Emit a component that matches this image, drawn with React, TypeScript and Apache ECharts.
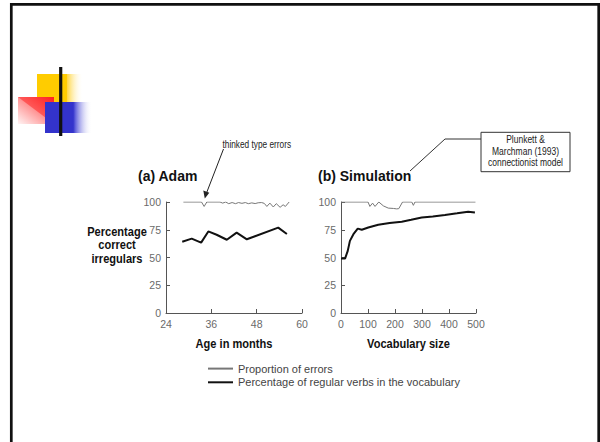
import React, { useEffect, useRef } from "react";
import * as echarts from "echarts";

// ---- data ----
const adamErrors: [number, number][] = [
  [28.6, 100], [33.4, 100], [34.1, 96], [34.8, 100], [38.3, 100], [39.0, 99], [39.8, 100],
  [40.6, 98.5], [41.5, 99.5], [42.4, 98.5], [43.2, 99.5], [44.1, 98.8], [45.0, 99.5],
  [45.8, 98.5], [46.7, 99.2], [47.6, 98.6], [48.4, 99.3], [49.3, 99.5], [50.0, 98.8],
  [50.7, 96], [51.5, 99], [52.4, 95.5], [53.2, 98.5], [54.2, 95.2], [55.0, 97.5],
  [55.6, 96], [56.6, 100],
];
const adamRegular: [number, number][] = [
  [28.3, 64.2], [30.8, 67], [33.3, 63.4], [35.2, 73.5], [37.4, 70.5], [40.1, 66],
  [42.7, 72.4], [45.4, 66.4], [53.7, 76.9], [56.0, 71.2],
];
const simErrors: [number, number][] = [
  [0, 100], [100, 100], [107, 96], [117, 99], [126, 96], [140, 100], [157, 96.5],
  [175, 94.5], [194, 94.2], [206, 93.8], [214, 94], [228, 100], [262, 100], [268, 97],
  [274, 100], [498, 100],
];
const simRegular: [number, number][] = [
  [0, 49], [15, 49], [25, 56], [33, 65], [46, 71], [62, 76], [77, 75], [101, 77],
  [138, 79.5], [180, 81], [225, 82.3], [260, 84], [299, 86], [340, 87], [385, 88.3],
  [430, 89.8], [471, 91.3], [496, 90.5],
];
const seriesNames = ["Proportion of errors", "Percentage of regular verbs in the vocabulary"];
const panelTitles = ["(a) Adam", "(b) Simulation"];
const xNames = ["Age in months", "Vocabulary size"];
const yLabelLines = ["Percentage", "correct", "irregulars"];
const annotationText = "thinked type errors";
const boxLines = ["Plunkett &", "Marchman (1993)", "connectionist model"];

const SANS = "'Liberation Sans', Arial, sans-serif";

export default function App() {
  const ref = useRef<HTMLDivElement>(null);
  useEffect(() => {
    if (!ref.current) return;
    const chart = echarts.init(ref.current, null, { renderer: "svg" });
    const axisLine = { lineStyle: { color: "#555", width: 1 } };
    const axisTick = { inside: true, length: 4, lineStyle: { color: "#555" } };
    const axisLabel = { color: "#6a6a6a", fontFamily: SANS, fontSize: 10.5, margin: 5 };
    const yAxisBase = {
      type: "value" as const,
      min: 0,
      max: 100,
      interval: 25,
      axisLine: { show: true, ...axisLine },
      axisTick: { show: true, ...axisTick },
      axisLabel,
      splitLine: { show: false },
    };
    const thin = { color: "#777", width: 1 };
    const thick = { color: "#111", width: 2 };
    const narrowBold = { fontFamily: SANS, fontWeight: "bold" as const, fontSize: 13.5, fill: "#111" };
    chart.setOption({
      animation: false,
      backgroundColor: "#fff",
      title: [
        { text: panelTitles[0], left: 138, top: 169, padding: 0, textStyle: { fontFamily: SANS, fontWeight: "bold", fontSize: 14, color: "#111" } },
        { text: panelTitles[1], left: 318, top: 169, padding: 0, textStyle: { fontFamily: SANS, fontWeight: "bold", fontSize: 14, color: "#111" } },
      ],
      grid: [
        { left: 166, top: 202, width: 136, height: 111 },
        { left: 341, top: 202, width: 135, height: 111 },
      ],
      xAxis: [
        { gridIndex: 0, type: "value", min: 24, max: 60, interval: 12, axisLine, axisTick, axisLabel, splitLine: { show: false } },
        { gridIndex: 1, type: "value", min: 0, max: 500, interval: 100, axisLine, axisTick, axisLabel, splitLine: { show: false } },
      ],
      yAxis: [
        { gridIndex: 0, ...yAxisBase },
        { gridIndex: 1, ...yAxisBase },
      ],
      legend: {
        left: 207,
        top: 363,
        orient: "vertical",
        itemWidth: 25,
        itemHeight: 14,
        itemGap: 2.5,
        padding: 0,
        data: seriesNames,
        itemStyle: { opacity: 0, borderWidth: 0 },
        textStyle: { fontFamily: SANS, fontSize: 11, color: "#444" },
      },
      series: [
        { name: seriesNames[0], type: "line", xAxisIndex: 0, yAxisIndex: 0, data: adamErrors, symbol: "none", lineStyle: thin, itemStyle: { color: "#777" } },
        { name: seriesNames[1], type: "line", xAxisIndex: 0, yAxisIndex: 0, data: adamRegular, symbol: "none", lineStyle: thick, itemStyle: { color: "#111" } },
        { name: seriesNames[0], type: "line", xAxisIndex: 1, yAxisIndex: 1, data: simErrors, symbol: "none", lineStyle: thin, itemStyle: { color: "#777" } },
        { name: seriesNames[1], type: "line", xAxisIndex: 1, yAxisIndex: 1, data: simRegular, symbol: "none", lineStyle: thick, itemStyle: { color: "#111" } },
      ],
      graphic: [
        // slide frame
        { type: "rect", shape: { x: 11.3, y: 4.3, width: 587.4, height: 470 }, style: { fill: "none", stroke: "#111", lineWidth: 2.7 }, silent: true },
        // decorative logo
        {
          type: "rect", shape: { x: 37, y: 74, width: 46, height: 28 },
          style: { fill: new echarts.graphic.LinearGradient(0, 0, 1, 0, [
            { offset: 0, color: "#FFCC00" }, { offset: 0.64, color: "#FFCC00" }, { offset: 0.66, color: "#FFD84A" }, { offset: 1, color: "rgba(255,255,255,0)" },
          ]) },
        },
        {
          type: "rect", shape: { x: 18, y: 97, width: 36, height: 27 },
          style: { fill: new echarts.graphic.LinearGradient(1, 0, 0, 1, [
            { offset: 0, color: "#FF3030" }, { offset: 1, color: "#FFF4F4" },
          ]) },
        },
        {
          type: "polygon", shape: { points: [[18, 97], [54, 97], [54, 124]] },
          style: { fill: new echarts.graphic.LinearGradient(1, 0, 0, 1, [
            { offset: 0, color: "#FF2020" }, { offset: 1, color: "#FF9090" },
          ]) },
        },
        {
          type: "rect", shape: { x: 45, y: 102, width: 47, height: 31 },
          style: { fill: new echarts.graphic.LinearGradient(0, 0, 1, 0, [
            { offset: 0, color: "#3333CC" }, { offset: 0.6, color: "#3333CC" }, { offset: 0.65, color: "#6666DD" }, { offset: 1, color: "rgba(255,255,255,0)" },
          ]) },
        },
        { type: "line", shape: { x1: 60.7, y1: 67, x2: 60.7, y2: 136 }, style: { stroke: "#111", lineWidth: 3.2 } },
        {
          type: "line", shape: { x1: 39, y1: 119.3, x2: 590, y2: 119.3 },
          style: { stroke: new echarts.graphic.LinearGradient(0, 0, 1, 0, [
            { offset: 0, color: "#333" }, { offset: 1, color: "#aaa" },
          ]), lineWidth: 2 },
        },
        // y axis label
        {
          type: "text", x: 117, y: 245, scaleX: 0.82,
          style: { text: yLabelLines.join("\n"), align: "center", verticalAlign: "middle", lineHeight: 13.8, ...narrowBold },
        },
        // x axis names
        { type: "text", x: 234, y: 344, scaleX: 0.82, style: { text: xNames[0], align: "center", verticalAlign: "middle", ...narrowBold } },
        { type: "text", x: 408.5, y: 344, scaleX: 0.82, style: { text: xNames[1], align: "center", verticalAlign: "middle", ...narrowBold } },
        // annotation
        { type: "text", x: 222.5, y: 144.3, scaleX: 0.83, style: { text: annotationText, align: "left", verticalAlign: "middle", fontFamily: SANS, fontSize: 10, fill: "#222" } },
        { type: "line", shape: { x1: 223.5, y1: 149, x2: 206.5, y2: 193 }, style: { stroke: "#222", lineWidth: 1 } },
        { type: "polygon", shape: { points: [[204.8, 198.5], [203.3, 190.5], [209.3, 192.8]] }, style: { fill: "#222" } },
        // box callout
        { type: "polyline", shape: { points: [[410, 171], [445, 139], [481, 139]] }, style: { stroke: "#333", lineWidth: 1, fill: "none" } },
        { type: "rect", shape: { x: 481, y: 132.3, width: 89, height: 39.4 }, style: { fill: "#fff", stroke: "#333", lineWidth: 1 } },
        {
          type: "text", x: 525.5, y: 151.5, scaleX: 0.85,
          style: { text: boxLines.join("\n"), align: "center", verticalAlign: "middle", lineHeight: 11.5, fontFamily: SANS, fontSize: 10, fill: "#222" },
        },
      ],
    });
    return () => chart.dispose();
  }, []);
  return <div ref={ref} style={{ position: "fixed", left: 0, top: 0, width: 600, height: 442 }} />;
}
